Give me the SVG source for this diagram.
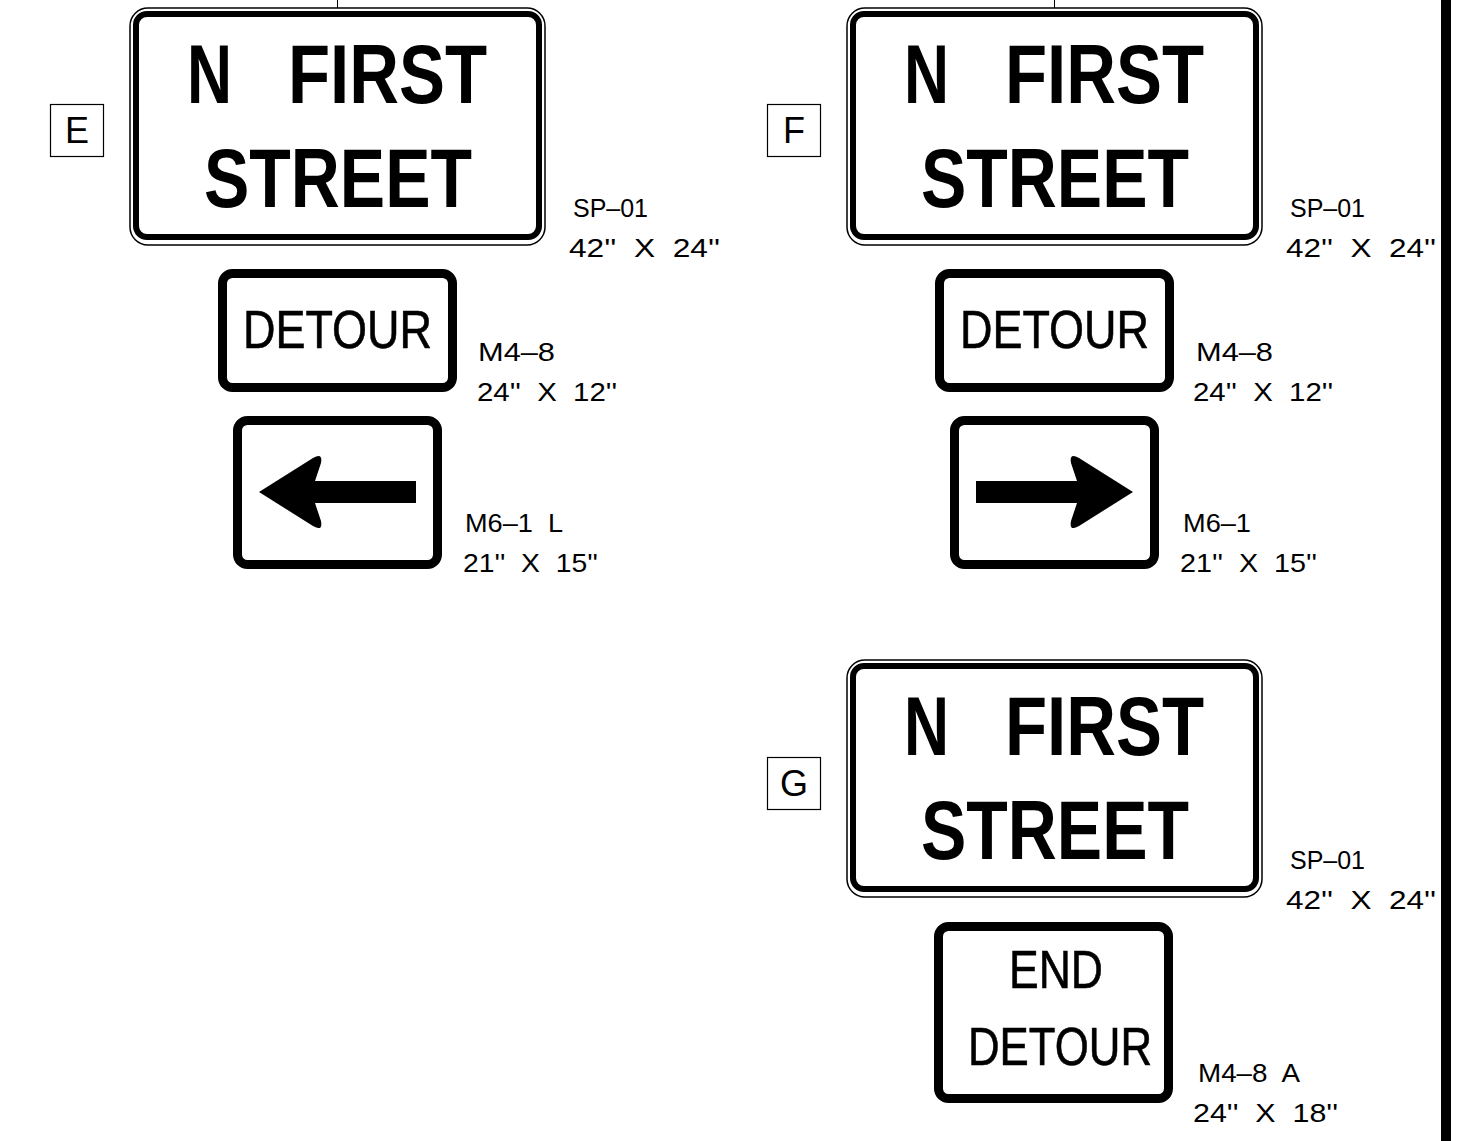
<svg xmlns="http://www.w3.org/2000/svg" width="1469" height="1141" viewBox="0 0 1469 1141">
<style>
.thin{fill:none;stroke:#000;stroke-width:1.5}
.thick{fill:#fff;stroke:#000;stroke-width:6}
.panel{fill:#fff;stroke:#000;stroke-width:9}
.box{fill:#fff;stroke:#000;stroke-width:1.2}
.big{font-family:"Liberation Sans",Arial,sans-serif;font-weight:bold;font-size:83px;fill:#000}
.mid{font-family:"Liberation Sans",Arial,sans-serif;font-size:53px;fill:#000;stroke:#000;stroke-width:0.6}
.lbl{font-family:"Liberation Sans",Arial,sans-serif;font-size:25.5px;fill:#000;white-space:pre}
.let{font-family:"Liberation Sans",Arial,sans-serif;font-size:36px;fill:#000}
.tick{stroke:#000;stroke-width:1}
</style>
<rect x="1441" y="0" width="10" height="1141" fill="#000"/>

<g id="sign-E">
  <rect class="box" x="50.5" y="104.5" width="53" height="52"/>
  <text class="let" x="77" y="143" text-anchor="middle">E</text>
  <line class="tick" x1="337.5" y1="0" x2="337.5" y2="8"/>
  <rect class="thin" x="130" y="8" width="415" height="237" rx="18"/>
  <rect class="thick" x="136" y="14" width="403" height="223" rx="11"/>
  <text class="big" y="103"><tspan x="187" textLength="45" lengthAdjust="spacingAndGlyphs">N</tspan> <tspan x="288" textLength="199" lengthAdjust="spacingAndGlyphs">FIRST</tspan></text>
  <text class="big" x="204" y="207" textLength="268" lengthAdjust="spacingAndGlyphs">STREET</text>
  <text class="lbl" x="573" y="217" textLength="75" lengthAdjust="spacingAndGlyphs">SP–01</text>
  <text class="lbl" x="569" y="257" textLength="151" lengthAdjust="spacingAndGlyphs">42''  X  24''</text>
  <rect class="panel" x="222.5" y="273.5" width="230" height="114" rx="10"/>
  <text class="mid" x="243" y="348" textLength="189" lengthAdjust="spacingAndGlyphs">DETOUR</text>
  <text class="lbl" x="478" y="361" textLength="77" lengthAdjust="spacingAndGlyphs">M4–8</text>
  <text class="lbl" x="477" y="401" textLength="140" lengthAdjust="spacingAndGlyphs">24''  X  12''</text>
  <rect class="panel" x="237.5" y="420.5" width="200" height="144" rx="10"/>
  <path d="M259,492 L313,458 Q323,452 321,463 L315,481 H416 V503 H315 L321,521 Q323,532 313,526 Z" fill="#000"/>
  <text class="lbl" x="465" y="532" textLength="98" lengthAdjust="spacingAndGlyphs">M6–1  L</text>
  <text class="lbl" x="463" y="572" textLength="135" lengthAdjust="spacingAndGlyphs">21''  X  15''</text>
</g>

<g id="sign-F">
  <rect class="box" x="767.5" y="104.5" width="53" height="52"/>
  <text class="let" x="794" y="143" text-anchor="middle">F</text>
  <line class="tick" x1="1054.5" y1="0" x2="1054.5" y2="8"/>
  <rect class="thin" x="847" y="8" width="415" height="237" rx="18"/>
  <rect class="thick" x="853" y="14" width="403" height="223" rx="11"/>
  <text class="big" y="103"><tspan x="904" textLength="45" lengthAdjust="spacingAndGlyphs">N</tspan> <tspan x="1005" textLength="199" lengthAdjust="spacingAndGlyphs">FIRST</tspan></text>
  <text class="big" x="921" y="207" textLength="268" lengthAdjust="spacingAndGlyphs">STREET</text>
  <text class="lbl" x="1290" y="217" textLength="75" lengthAdjust="spacingAndGlyphs">SP–01</text>
  <text class="lbl" x="1286" y="257" textLength="150" lengthAdjust="spacingAndGlyphs">42''  X  24''</text>
  <rect class="panel" x="939.5" y="273.5" width="230" height="114" rx="10"/>
  <text class="mid" x="960" y="348" textLength="189" lengthAdjust="spacingAndGlyphs">DETOUR</text>
  <text class="lbl" x="1196" y="361" textLength="77" lengthAdjust="spacingAndGlyphs">M4–8</text>
  <text class="lbl" x="1193" y="401" textLength="140" lengthAdjust="spacingAndGlyphs">24''  X  12''</text>
  <rect class="panel" x="954.5" y="420.5" width="200" height="144" rx="10"/>
  <path d="M1133,492 L1079,458 Q1069,452 1071,463 L1077,481 H976 V503 H1077 L1071,521 Q1069,532 1079,526 Z" fill="#000"/>
  <text class="lbl" x="1183" y="532" textLength="68" lengthAdjust="spacingAndGlyphs">M6–1</text>
  <text class="lbl" x="1180" y="572" textLength="137" lengthAdjust="spacingAndGlyphs">21''  X  15''</text>
</g>

<g id="sign-G">
  <rect class="box" x="767.5" y="757.5" width="53" height="52"/>
  <text class="let" x="794" y="796" text-anchor="middle">G</text>
  <rect class="thin" x="847" y="660" width="415" height="237" rx="18"/>
  <rect class="thick" x="853" y="666" width="403" height="223" rx="11"/>
  <text class="big" y="755"><tspan x="904" textLength="45" lengthAdjust="spacingAndGlyphs">N</tspan> <tspan x="1005" textLength="199" lengthAdjust="spacingAndGlyphs">FIRST</tspan></text>
  <text class="big" x="921" y="859" textLength="268" lengthAdjust="spacingAndGlyphs">STREET</text>
  <text class="lbl" x="1290" y="869" textLength="75" lengthAdjust="spacingAndGlyphs">SP–01</text>
  <text class="lbl" x="1286" y="909" textLength="150" lengthAdjust="spacingAndGlyphs">42''  X  24''</text>
  <rect class="panel" x="938.5" y="926.5" width="230" height="172" rx="10"/>
  <text class="mid" x="1009" y="988" font-size="49" textLength="94" lengthAdjust="spacingAndGlyphs">END</text>
  <text class="mid" x="968" y="1065" font-size="51" textLength="184" lengthAdjust="spacingAndGlyphs">DETOUR</text>
  <text class="lbl" x="1198" y="1082" textLength="102" lengthAdjust="spacingAndGlyphs">M4–8  A</text>
  <text class="lbl" x="1193" y="1122" textLength="145" lengthAdjust="spacingAndGlyphs">24''  X  18''</text>
</g>
</svg>
